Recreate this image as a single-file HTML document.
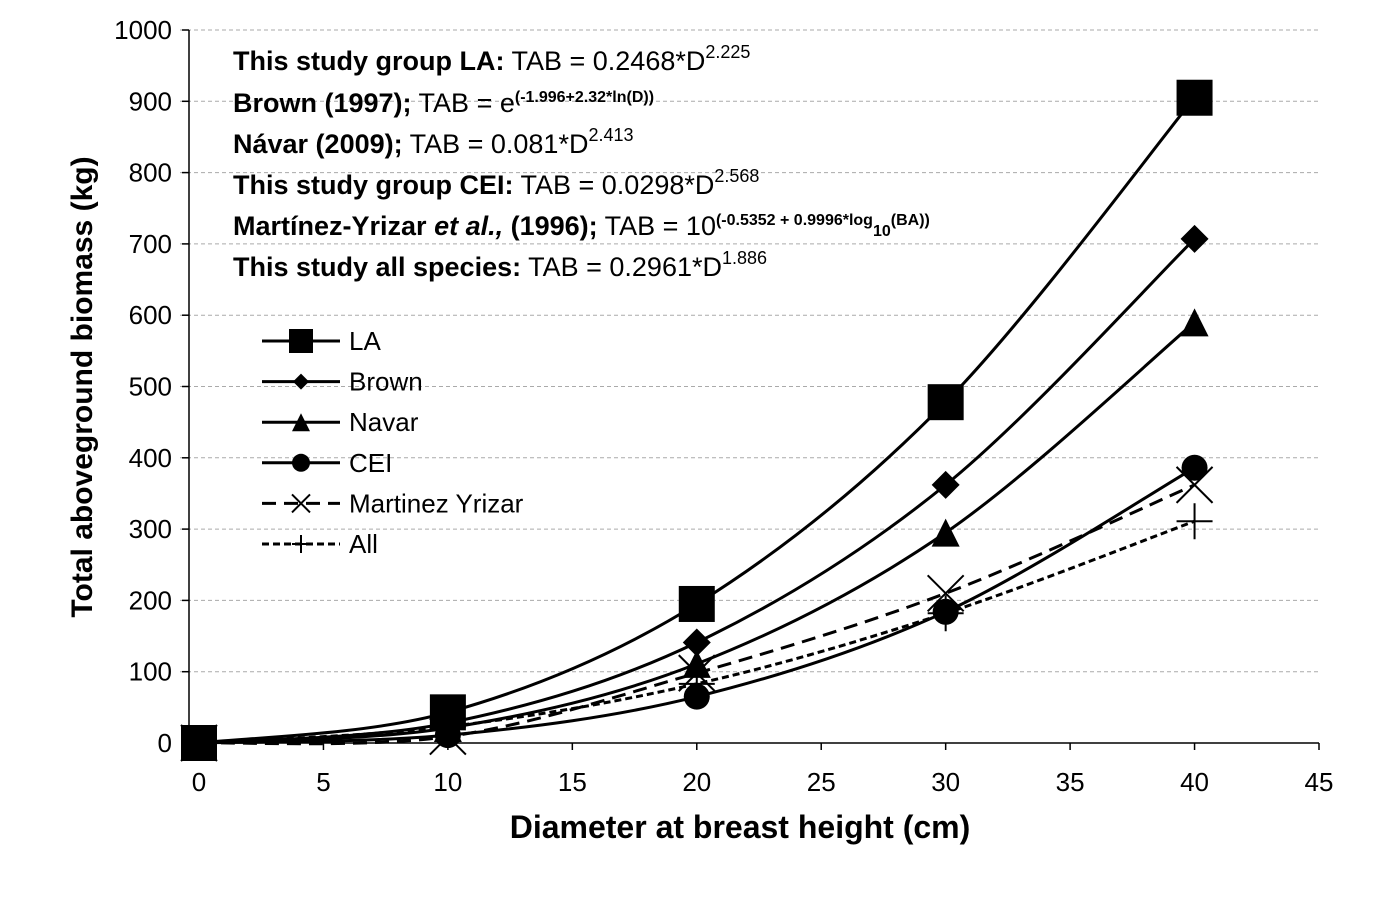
<!DOCTYPE html>
<html><head><meta charset="utf-8"><style>
body{margin:0;background:#fff}
svg{font-family:"Liberation Sans",Arial,sans-serif}
</style></head><body>
<svg id="c" width="1399" height="911" xmlns="http://www.w3.org/2000/svg">
<g id="grid"></g>
<g id="axes"></g>
<g id="series"></g>
<g font-size="27" fill="#000" textLength="1">
<text x="233" y="70"><tspan font-weight="bold">This study group LA:</tspan> TAB = 0.2468*D<tspan font-size="18" dy="-12">2.225</tspan></text>
<text x="233" y="112"><tspan font-weight="bold">Brown (1997);</tspan> TAB = e<tspan font-size="16" font-weight="bold" dy="-10">(-1.996+2.32*ln(D))</tspan></text>
<text x="233" y="153"><tspan font-weight="bold">Návar (2009);</tspan> TAB = 0.081*D<tspan font-size="18" dy="-12">2.413</tspan></text>
<text x="233" y="194"><tspan font-weight="bold">This study group CEI:</tspan> TAB = 0.0298*D<tspan font-size="18" dy="-12">2.568</tspan></text>
<text x="233" y="235"><tspan font-weight="bold">Martínez-Yrizar <tspan font-style="italic">et al.,</tspan> (1996);</tspan> TAB = 10<tspan font-size="16" font-weight="bold" dy="-10">(-0.5352 + 0.9996*log</tspan><tspan font-size="16" font-weight="bold" dy="11">10</tspan><tspan font-size="16" font-weight="bold" dy="-11">(BA))</tspan></text>
<text x="233" y="276"><tspan font-weight="bold">This study all species:</tspan> TAB = 0.2961*D<tspan font-size="18" dy="-12">1.886</tspan></text>
</g>
<g id="legend"></g>
<text x="740" y="838" font-size="32" font-weight="bold" text-anchor="middle">Diameter at breast height (cm)</text>
<text transform="translate(92,387) rotate(-90)" font-size="30" font-weight="bold" text-anchor="middle">Total aboveground biomass (kg)</text>
</svg>
<script>
const xValues=[0,10,20,30,40];
const seriesNames=["LA","Brown","Navar","CEI","Martinez Yrizar","All"];
const laValues=[0,43,195,478,905];
const brownValues=[0,28,141,362,707];
const navarValues=[0,21,111,295,590];
const ceiValues=[0,11,65,184,386];
const martinezValues=[0,9,98,210,362];
const allValues=[0,23,83,182,311];
const xTicks=[0,5,10,15,20,25,30,35,40,45];
const yTicks=[0,100,200,300,400,500,600,700,800,900,1000];
const NS="http://www.w3.org/2000/svg";
const X=v=>199+v*(1120/45), Y=v=>743-v*0.713;
function mk(p,t,a){const e=document.createElementNS(NS,t);for(const k in a)e.setAttribute(k,a[k]);p.appendChild(e);return e;}
const grid=document.getElementById('grid'),axes=document.getElementById('axes'),ser=document.getElementById('series'),leg=document.getElementById('legend');
yTicks.forEach(t=>{if(t>0){const l=mk(grid,'line',{x1:180,x2:1319,y1:Y(t),y2:Y(t),stroke:'#aaa','stroke-dasharray':'4 3','stroke-width':1});

}
const tx=mk(axes,'text',{x:172,y:Y(t)+9,'font-size':26,'text-anchor':'end'});tx.textContent=t;


mk(axes,'line',{x1:182,x2:189,y1:Y(t),y2:Y(t),stroke:'#000','stroke-width':1.5});});
mk(axes,'line',{x1:189,x2:189,y1:Y(1000),y2:Y(0),stroke:'#000','stroke-width':1.5});
mk(axes,'line',{x1:189,x2:1319,y1:Y(0),y2:Y(0),stroke:'#000','stroke-width':1.5});
xTicks.forEach(t=>{mk(axes,'line',{x1:X(t),x2:X(t),y1:743,y2:750,stroke:'#000','stroke-width':1.5});
const tx=mk(axes,'text',{x:X(t),y:791,'font-size':26,'text-anchor':'middle'});tx.textContent=t;

});
function path(vals){const p=xValues.map((x,i)=>[X(x),Y(vals[i])]);let d='M'+p[0];
for(let i=0;i<p.length-1;i++){const a=p[Math.max(i-1,0)],b=p[i],c=p[i+1],e=p[Math.min(i+2,p.length-1)];
const c1=[b[0]+(c[0]-a[0])/6,b[1]+(c[1]-a[1])/6],c2=[c[0]-(e[0]-b[0])/6,c[1]-(e[1]-b[1])/6];d+=' C'+c1+' '+c2+' '+c;}return d;}
function marker(g,type,x,y,s){
if(type==='sq')mk(g,'rect',{x:x-s/2,y:y-s/2,width:s,height:s});
if(type==='di')mk(g,'polygon',{points:`${x},${y-s/2} ${x+s/2},${y} ${x},${y+s/2} ${x-s/2},${y}`});
if(type==='tr')mk(g,'polygon',{points:`${x},${y-s/2} ${x+s/2},${y+s/2} ${x-s/2},${y+s/2}`});
if(type==='ci')mk(g,'circle',{cx:x,cy:y,r:s/2});
if(type==='x'){mk(g,'path',{d:`M${x-s/2},${y-s/2}L${x+s/2},${y+s/2}M${x+s/2},${y-s/2}L${x-s/2},${y+s/2}`,stroke:'#000','stroke-width':2,fill:'none'});}
if(type==='pl'){mk(g,'path',{d:`M${x-s/2},${y}L${x+s/2},${y}M${x},${y-s/2}L${x},${y+s/2}`,stroke:'#000','stroke-width':2,fill:'none'});}}
const cfg=[[laValues,'sq',36,'',24,'series-la'],[brownValues,'di',28,'',16,'series-brown'],[navarValues,'tr',28,'',18,'series-navar'],[ceiValues,'ci',26,'',18,'series-cei'],[martinezValues,'x',36,'14 8',18,'series-martinez'],[allValues,'pl',36,'7 4',18,'series-all']];
cfg.forEach((c,i)=>{const g=mk(ser,'g',{fill:'#000'});


mk(g,'path',{d:path(c[0]),fill:'none',stroke:'#000','stroke-width':3,'stroke-dasharray':c[3]||'none'});
xValues.forEach((x,j)=>marker(g,c[1],X(x),Y(c[0][j]),c[2]));
const ly=341+i*40.6;const lg=mk(leg,'g',{fill:'#000'});


mk(lg,'line',{x1:262,x2:340,y1:ly,y2:ly,stroke:'#000','stroke-width':3,'stroke-dasharray':c[3]||'none'});
marker(lg,c[1],301,ly,c[4]);
const t=mk(lg,'text',{x:349,y:ly+9,'font-size':26});t.textContent=seriesNames[i];});
</script>
</body></html>
